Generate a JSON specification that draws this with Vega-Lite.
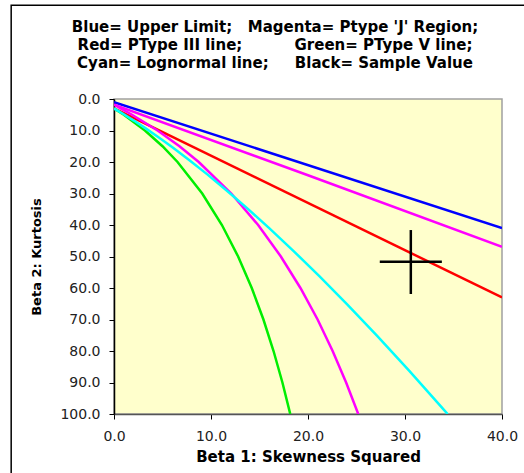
{
  "$schema": "https://vega.github.io/schema/vega-lite/v6.json",
  "width": 388,
  "height": 315,
  "autosize": {"type": "none"},
  "padding": {"left": 114, "top": 99, "right": 22, "bottom": 59},
  "background": "white",
  "config": {
    "font": "DejaVu Sans",
    "view": {"fill": "#FFFFCC", "stroke": "#A0A0A0", "strokeWidth": 1.5},
    "axis": {
      "grid": false,
      "format": ".1f",
      "tickColor": "#000000",
      "tickSize": 5,
      "domainWidth": 1.5,
      "labelFont": "DejaVu Sans",
      "labelFontSize": 14,
      "labelColor": "#222222",
      "labelOverlap": false,
      "labelFlush": false,
      "titleFont": "DejaVu Sans",
      "titleFontWeight": "bold",
      "titleColor": "#000000"
    },
    "axisX": {"domainColor": "#555555", "labelPadding": 10, "titlePadding": 6, "titleFontSize": 15, "tickCount": 20},
    "axisY": {"domainColor": "#000000", "labelPadding": 9, "titlePadding": 16, "titleFontSize": 13, "tickCount": 20}
  },
  "title": {
    "text": [
      "Blue= Upper Limit;\u00a0\u00a0\u00a0Magenta= Ptype 'J' Region;",
      "Red= PType III line;\u00a0\u00a0\u00a0\u00a0\u00a0\u00a0\u00a0\u00a0\u00a0\u00a0Green= PType V line;",
      "Cyan= Lognormal line;\u00a0\u00a0\u00a0\u00a0\u00a0Black= Sample Value"
    ],
    "anchor": "middle",
    "dx": -33,
    "offset": -67,
    "font": "DejaVu Sans",
    "fontSize": 15,
    "fontWeight": "bold",
    "lineHeight": 18,
    "color": "#000000"
  },
  "layer": [
    {
      "data": {
        "values": [
          {"s": "Upper", "b1": 0, "b2": 1},
          {"s": "Upper", "b1": 40, "b2": 41},
          {"s": "J1", "b1": 0, "b2": 1.8},
          {"s": "J1", "b1": 20, "b2": 24.2},
          {"s": "J1", "b1": 40, "b2": 46.9},
          {"s": "III", "b1": 0, "b2": 3},
          {"s": "III", "b1": 40, "b2": 63},
          {"s": "J2", "b1": 0, "b2": 1.8},
          {"s": "J2", "b1": 0.68, "b2": 3},
          {"s": "J2", "b1": 1.86, "b2": 5},
          {"s": "J2", "b1": 4.49, "b2": 10},
          {"s": "J2", "b1": 6.75, "b2": 15},
          {"s": "J2", "b1": 8.735, "b2": 20},
          {"s": "J2", "b1": 12.09, "b2": 30},
          {"s": "J2", "b1": 14.86, "b2": 40},
          {"s": "J2", "b1": 17.2, "b2": 50},
          {"s": "J2", "b1": 19.22, "b2": 60},
          {"s": "J2", "b1": 20.99, "b2": 70},
          {"s": "J2", "b1": 22.54, "b2": 80},
          {"s": "J2", "b1": 23.93, "b2": 90},
          {"s": "J2", "b1": 25.18, "b2": 100},
          {"s": "V", "b1": 0, "b2": 3},
          {"s": "V", "b1": 1.014, "b2": 5},
          {"s": "V", "b1": 3.19, "b2": 10},
          {"s": "V", "b1": 5.0, "b2": 15},
          {"s": "V", "b1": 6.549, "b2": 20},
          {"s": "V", "b1": 9.096, "b2": 30},
          {"s": "V", "b1": 11.127, "b2": 40},
          {"s": "V", "b1": 12.797, "b2": 50},
          {"s": "V", "b1": 14.202, "b2": 60},
          {"s": "V", "b1": 15.405, "b2": 70},
          {"s": "V", "b1": 16.447, "b2": 80},
          {"s": "V", "b1": 17.362, "b2": 90},
          {"s": "V", "b1": 18.17, "b2": 100},
          {"s": "Lognormal", "b1": 0, "b2": 3},
          {"s": "Lognormal", "b1": 0.465, "b2": 3.838},
          {"s": "Lognormal", "b1": 0.961, "b2": 4.756},
          {"s": "Lognormal", "b1": 2.048, "b2": 6.85},
          {"s": "Lognormal", "b1": 3.267, "b2": 9.32},
          {"s": "Lognormal", "b1": 4.624, "b2": 12.21},
          {"s": "Lognormal", "b1": 6.125, "b2": 15.56},
          {"s": "Lognormal", "b1": 7.776, "b2": 19.43},
          {"s": "Lognormal", "b1": 9.583, "b2": 23.85},
          {"s": "Lognormal", "b1": 11.552, "b2": 28.88},
          {"s": "Lognormal", "b1": 13.689, "b2": 34.58},
          {"s": "Lognormal", "b1": 16.0, "b2": 41.0},
          {"s": "Lognormal", "b1": 18.491, "b2": 48.2},
          {"s": "Lognormal", "b1": 21.168, "b2": 56.24},
          {"s": "Lognormal", "b1": 24.037, "b2": 65.19},
          {"s": "Lognormal", "b1": 27.104, "b2": 75.11},
          {"s": "Lognormal", "b1": 30.375, "b2": 86.06},
          {"s": "Lognormal", "b1": 33.856, "b2": 98.13},
          {"s": "Lognormal", "b1": 34.397, "b2": 100}
        ]
      },
      "mark": {"type": "line", "strokeWidth": 2.5, "clip": true},
      "encoding": {
        "x": {
          "field": "b1",
          "type": "quantitative",
          "scale": {"domain": [0, 40], "nice": false, "zero": false},
          "axis": {"title": "Beta 1: Skewness Squared", "values": [0, 10, 20, 30, 40], "tickCount": 20}
        },
        "y": {
          "field": "b2",
          "type": "quantitative",
          "scale": {"domain": [0, 100], "reverse": true, "nice": false, "zero": false},
          "axis": {"title": "Beta 2: Kurtosis", "values": [0, 10, 20, 30, 40, 50, 60, 70, 80, 90, 100], "tickCount": 20}
        },
        "color": {
          "field": "s",
          "type": "nominal",
          "scale": {
            "domain": ["V", "Lognormal", "J2", "III", "J1", "Upper"],
            "range": ["#00EE00", "#00FFFF", "#FF00FF", "#FF0000", "#FF00FF", "#0000FF"]
          },
          "legend": null
        }
      }
    },
    {
      "data": {"values": [{"b1": 30.6, "b2": 51.7, "lo1": 27.4, "hi1": 33.8, "lo2": 41.6, "hi2": 61.9}]},
      "mark": {"type": "rule", "color": "#000000", "strokeWidth": 2.5},
      "encoding": {
        "x": {"field": "lo1", "type": "quantitative", "axis": {"title": "Beta 1: Skewness Squared", "values": [0, 10, 20, 30, 40], "tickCount": 20}},
        "x2": {"field": "hi1"},
        "y": {"field": "b2", "type": "quantitative", "axis": {"title": "Beta 2: Kurtosis", "values": [0, 10, 20, 30, 40, 50, 60, 70, 80, 90, 100], "tickCount": 20}}
      }
    },
    {
      "data": {"values": [{"b1": 30.6, "b2": 51.7, "lo1": 27.4, "hi1": 33.8, "lo2": 41.6, "hi2": 61.9}]},
      "mark": {"type": "rule", "color": "#000000", "strokeWidth": 2.5},
      "encoding": {
        "x": {"field": "b1", "type": "quantitative", "axis": {"title": "Beta 1: Skewness Squared", "values": [0, 10, 20, 30, 40], "tickCount": 20}},
        "y": {"field": "lo2", "type": "quantitative", "axis": {"title": "Beta 2: Kurtosis", "values": [0, 10, 20, 30, 40, 50, 60, 70, 80, 90, 100], "tickCount": 20}},
        "y2": {"field": "hi2"}
      }
    },
    {
      "data": {"values": [{}]},
      "mark": {"type": "rect", "fill": null, "fillOpacity": 0, "stroke": "#000000", "strokeWidth": 1.5, "clip": false},
      "encoding": {
        "x": {"datum": -10.6, "type": "quantitative", "axis": {"title": "Beta 1: Skewness Squared", "values": [0, 10, 20, 30, 40], "tickCount": 20}},
        "x2": {"datum": 46},
        "y": {"datum": -29.8, "type": "quantitative", "axis": {"title": "Beta 2: Kurtosis", "values": [0, 10, 20, 30, 40, 50, 60, 70, 80, 90, 100], "tickCount": 20}},
        "y2": {"datum": 125}
      }
    }
  ]
}
